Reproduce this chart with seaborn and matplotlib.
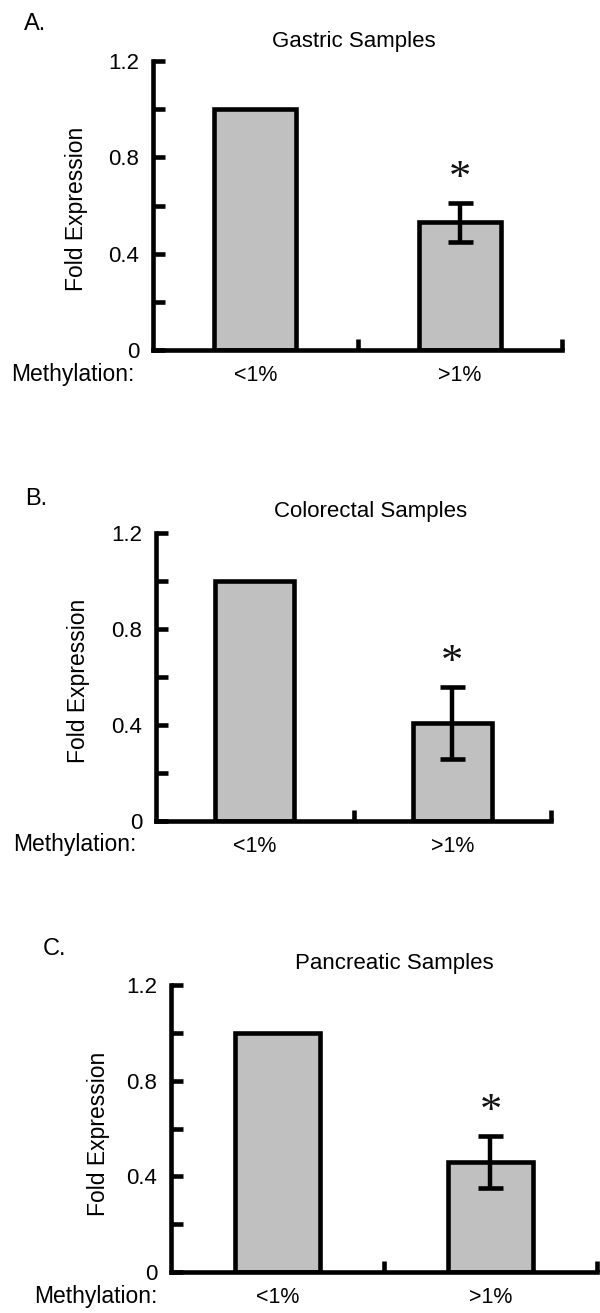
import matplotlib
matplotlib.use("Agg")
import matplotlib.pyplot as plt
import seaborn as sns

# --- data ---
categories = ['<1%', '>1%']
panel_labels = ['A.', 'B.', 'C.']
titles = ['Gastric Samples', 'Colorectal Samples', 'Pancreatic Samples']
gastric = [1.0, 0.53]
colorectal = [1.0, 0.41]
pancreatic = [1.0, 0.46]
gastric_err = [0, 0.08]
colorectal_err = [0, 0.15]
pancreatic_err = [0, 0.11]
y_ticks = [0, 0.4, 0.8, 1.2]
y_ticklabels = ['0', '0.4', '0.8', '1.2']

sns.set_theme(style='white')
plt.rcParams['font.family'] = ['Liberation Sans', 'DejaVu Sans']
plt.rcParams['text.color'] = 'black'

W, H = 600, 1313
fig = plt.figure(figsize=(W / 100, H / 100), dpi=100)


def fx(px):
    return px / W


def fy(py):
    return 1 - py / H


# panel boxes in pixels: left, right, top, bottom
boxes = [(153, 562, 61, 350), (156, 551, 533, 821), (171, 597, 985, 1272)]
# text anchors in pixels
label_pos = [(35, 24), (36, 499), (55, 949)]
title_pos = [(354, 41), (371, 511), (394, 964)]
meth_pos = [(11, 374), (13, 844), (34, 1297)]
ylab_pos = [(76, 209), (78, 681), (98, 1134)]

values = [gastric, colorectal, pancreatic]
errors = [gastric_err, colorectal_err, pancreatic_err]

LW = 3.3
for i in range(3):
    l, r, t, b = boxes[i]
    ax = fig.add_axes([fx(l), fy(b), fx(r) - fx(l), fy(t) - fy(b)])
    sns.barplot(x=categories, y=values[i], color='#c0c0c0', saturation=1,
                edgecolor='black', linewidth=LW, width=0.4, errorbar=None, ax=ax)

    # error bars on the bar centres
    xs = [p.get_x() + p.get_width() / 2 for p in ax.patches]
    ax.errorbar(xs[1:], values[i][1:], yerr=errors[i][1:], fmt='none',
                ecolor='black', elinewidth=3.2, capsize=9, capthick=LW, zorder=5)
    # significance star
    ax.text(xs[1], values[i][1] + errors[i][1] + 0.10, '*', ha='center', va='center',
            fontsize=32, family='Liberation Serif', color='#111111')

    ax.set_ylim(0, 1.2)
    ax.set_xlim(-0.5, 1.5)
    ax.set_yticks(y_ticks)
    ax.set_yticklabels(y_ticklabels)
    ax.set_yticks([0.2, 0.6, 1.0], minor=True)
    ax.set_xticks([0.5, 1.5], minor=True)
    ax.tick_params(axis='y', which='both', direction='in', length=8.5, width=LW,
                   labelsize=16, pad=10, colors='black', left=True)
    ax.tick_params(axis='x', which='major', length=0, labelsize=15.5, pad=11,
                   colors='black')
    ax.tick_params(axis='x', which='minor', direction='in', length=8, width=LW,
                   bottom=True, colors='black')
    sns.despine(ax=ax)
    for s in ['left', 'bottom']:
        ax.spines[s].set_linewidth(LW)
        ax.spines[s].set_color('black')
    ax.set_xlabel('')
    ax.set_ylabel('')
    ax.set_facecolor('white')

    fig.text(fx(label_pos[i][0]), fy(label_pos[i][1]), panel_labels[i],
             ha='center', va='center', fontsize=17)
    fig.text(fx(title_pos[i][0]), fy(title_pos[i][1]), titles[i],
             ha='center', va='center', fontsize=16)
    fig.text(fx(meth_pos[i][0]), fy(meth_pos[i][1]), 'Methylation:',
             ha='left', va='center', fontsize=16.5)
    fig.text(fx(ylab_pos[i][0]), fy(ylab_pos[i][1]), 'Fold Expression',
             ha='center', va='center', rotation=90, fontsize=16.5)

fig.savefig('out.png', dpi=100, facecolor='white')
